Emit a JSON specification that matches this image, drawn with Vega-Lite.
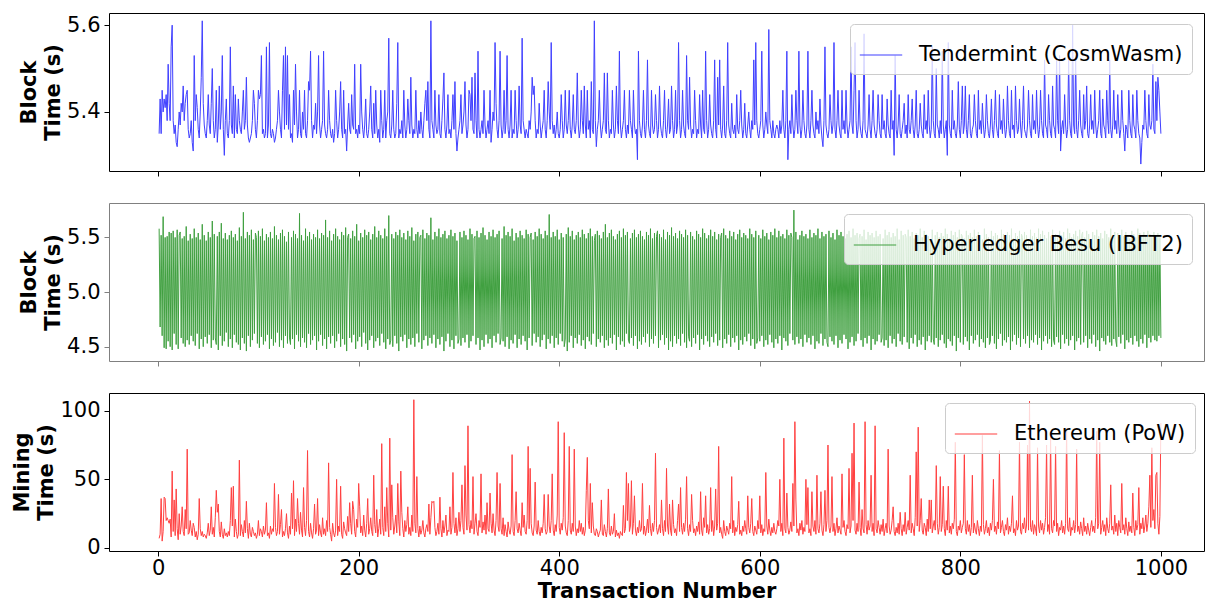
{
"$schema": "https://vega.github.io/schema/vega-lite/v6.json",
"padding": {"left": 11, "top": 12, "right": 0, "bottom": 0},
"autosize": {"type": "pad"},
"background": "white",
"config": {
  "font": "DejaVu Sans",
  "view": {"stroke": "#000000", "strokeWidth": 1},
  "axis": {"labelFont": "DejaVu Sans", "labelFontSize": 21, "labelColor": "#000000", "tickColor": "#000000", "tickSize": 5, "tickWidth": 1, "labelPadding": 4, "domain": false, "grid": false, "titleFont": "DejaVu Sans", "titleFontSize": 21, "titleFontWeight": "bold", "titleColor": "#000000", "titleLineHeight": 24},
  "legend": {"orient": "none", "title": null, "labelFont": "DejaVu Sans", "labelFontSize": 21, "labelColor": "#000000", "labelLimit": 600, "fillColor": "rgba(255,255,255,0.8)", "strokeColor": "#cccccc", "cornerRadius": 4, "padding": 9, "symbolType": "stroke", "symbolStrokeWidth": 1.2, "symbolSize": 1800, "labelOffset": 16}
},
"datasets": {"d": [
{"n":1,"t":5.35,"b":5.58,"e":7},{"n":2,"t":5.43,"b":4.68,"e":10},{"n":3,"t":5.35,"b":5.52,"e":36},{"n":4,"t":5.45,"b":4.60,"e":5},{"n":5,"t":5.40,"b":5.69,"e":12},{"n":6,"t":5.43,"b":4.49,"e":37},{"n":7,"t":5.41,"b":5.50,"e":36},{"n":8,"t":5.44,"b":4.48,"e":20},{"n":9,"t":5.38,"b":5.51,"e":22},{"n":10,"t":5.51,"b":4.55,"e":20},
{"n":11,"t":5.42,"b":5.55,"e":18},{"n":12,"t":5.38,"b":4.50,"e":21},{"n":13,"t":5.55,"b":5.54,"e":8},{"n":14,"t":5.60,"b":4.47,"e":56},{"n":15,"t":5.38,"b":5.56,"e":12},{"n":16,"t":5.35,"b":4.62,"e":35},{"n":17,"t":5.37,"b":5.50,"e":9},{"n":18,"t":5.33,"b":4.52,"e":43},{"n":19,"t":5.32,"b":5.57,"e":14},{"n":20,"t":5.36,"b":4.48,"e":6},
{"n":21,"t":5.40,"b":5.52,"e":25},{"n":22,"t":5.37,"b":5.55,"e":10},{"n":23,"t":5.42,"b":4.58,"e":16},{"n":24,"t":5.40,"b":5.49,"e":30},{"n":25,"t":5.46,"b":4.53,"e":12},{"n":26,"t":5.38,"b":5.51,"e":9},{"n":27,"t":5.42,"b":4.50,"e":28},{"n":28,"t":5.44,"b":5.60,"e":14},{"n":29,"t":5.45,"b":4.56,"e":72},{"n":30,"t":5.36,"b":5.47,"e":10},
{"n":31,"t":5.34,"b":4.52,"e":11},{"n":32,"t":5.35,"b":5.53,"e":20},{"n":33,"t":5.38,"b":4.60,"e":13},{"n":34,"t":5.33,"b":5.49,"e":9},{"n":35,"t":5.31,"b":4.55,"e":18},{"n":36,"t":5.53,"b":5.58,"e":15},{"n":37,"t":5.38,"b":4.51,"e":8},{"n":38,"t":5.44,"b":5.50,"e":12},{"n":39,"t":5.41,"b":4.62,"e":6},{"n":40,"t":5.36,"b":5.54,"e":10},
{"n":41,"t":5.34,"b":4.48,"e":36},{"n":42,"t":5.40,"b":5.48,"e":14},{"n":43,"t":5.48,"b":4.57,"e":9},{"n":44,"t":5.61,"b":5.62,"e":12},{"n":45,"t":5.42,"b":4.50,"e":8},{"n":46,"t":5.37,"b":5.52,"e":10},{"n":47,"t":5.35,"b":4.59,"e":9},{"n":48,"t":5.34,"b":5.47,"e":7},{"n":49,"t":5.38,"b":4.53,"e":11},{"n":50,"t":5.44,"b":5.55,"e":18},
{"n":51,"t":5.37,"b":4.61,"e":9},{"n":52,"t":5.35,"b":5.50,"e":13},{"n":53,"t":5.42,"b":4.49,"e":30},{"n":54,"t":5.50,"b":5.65,"e":10},{"n":55,"t":5.38,"b":4.56,"e":15},{"n":56,"t":5.34,"b":5.53,"e":8},{"n":57,"t":5.36,"b":4.58,"e":22},{"n":58,"t":5.45,"b":4.52,"e":42},{"n":59,"t":5.33,"b":5.51,"e":26},{"n":60,"t":5.37,"b":4.47,"e":32},
{"n":61,"t":5.46,"b":5.55,"e":12},{"n":62,"t":5.36,"b":4.60,"e":8},{"n":63,"t":5.40,"b":5.63,"e":19},{"n":64,"t":5.53,"b":4.51,"e":10},{"n":65,"t":5.36,"b":5.49,"e":7},{"n":66,"t":5.30,"b":4.55,"e":14},{"n":67,"t":5.38,"b":5.54,"e":9},{"n":68,"t":5.43,"b":4.63,"e":11},{"n":69,"t":5.35,"b":5.48,"e":8},{"n":70,"t":5.34,"b":4.50,"e":12},
{"n":71,"t":5.38,"b":5.52,"e":9},{"n":72,"t":5.55,"b":4.57,"e":20},{"n":73,"t":5.37,"b":5.56,"e":44},{"n":74,"t":5.35,"b":4.49,"e":16},{"n":75,"t":5.46,"b":5.50,"e":45},{"n":76,"t":5.34,"b":4.61,"e":8},{"n":77,"t":5.44,"b":5.53,"e":21},{"n":78,"t":5.36,"b":4.54,"e":12},{"n":79,"t":5.35,"b":5.47,"e":7},{"n":80,"t":5.43,"b":4.52,"e":10},
{"n":81,"t":5.38,"b":5.59,"e":64},{"n":82,"t":5.36,"b":4.47,"e":9},{"n":83,"t":5.35,"b":5.51,"e":17},{"n":84,"t":5.40,"b":4.58,"e":12},{"n":85,"t":5.45,"b":5.73,"e":8},{"n":86,"t":5.36,"b":4.53,"e":20},{"n":87,"t":5.38,"b":5.49,"e":11},{"n":88,"t":5.48,"b":4.46,"e":34},{"n":89,"t":5.37,"b":5.55,"e":14},{"n":90,"t":5.34,"b":4.60,"e":7},
{"n":91,"t":5.33,"b":5.52,"e":18},{"n":92,"t":5.34,"b":4.50,"e":10},{"n":93,"t":5.35,"b":5.57,"e":8},{"n":94,"t":5.38,"b":4.56,"e":15},{"n":95,"t":5.45,"b":5.48,"e":12},{"n":96,"t":5.42,"b":4.62,"e":9},{"n":97,"t":5.36,"b":5.54,"e":11},{"n":98,"t":5.34,"b":5.50,"e":7},{"n":99,"t":5.38,"b":4.53,"e":10},{"n":100,"t":5.45,"b":5.56,"e":20},
{"n":101,"t":5.43,"b":4.49,"e":9},{"n":102,"t":5.44,"b":5.51,"e":14},{"n":103,"t":5.53,"b":4.59,"e":12},{"n":104,"t":5.35,"b":5.58,"e":8},{"n":105,"t":5.36,"b":4.52,"e":16},{"n":106,"t":5.34,"b":5.47,"e":10},{"n":107,"t":5.35,"b":4.55,"e":13},{"n":108,"t":5.55,"b":5.53,"e":33},{"n":109,"t":5.34,"b":4.61,"e":9},{"n":110,"t":5.37,"b":5.50,"e":11},
{"n":111,"t":5.56,"b":4.48,"e":7},{"n":112,"t":5.35,"b":5.55,"e":16},{"n":113,"t":5.34,"b":4.57,"e":10},{"n":114,"t":5.36,"b":5.49,"e":14},{"n":115,"t":5.35,"b":4.51,"e":12},{"n":116,"t":5.33,"b":5.60,"e":47},{"n":117,"t":5.34,"b":4.54,"e":15},{"n":118,"t":5.36,"b":5.52,"e":9},{"n":119,"t":5.38,"b":4.63,"e":12},{"n":120,"t":5.45,"b":5.48,"e":39},
{"n":121,"t":5.40,"b":4.50,"e":10},{"n":122,"t":5.36,"b":5.54,"e":17},{"n":123,"t":5.34,"b":4.56,"e":28},{"n":124,"t":5.45,"b":5.57,"e":8},{"n":125,"t":5.53,"b":4.49,"e":12},{"n":126,"t":5.36,"b":5.51,"e":9},{"n":127,"t":5.55,"b":4.60,"e":14},{"n":128,"t":5.37,"b":5.46,"e":25},{"n":129,"t":5.53,"b":4.53,"e":11},{"n":130,"t":5.36,"b":5.55,"e":7},
{"n":131,"t":5.44,"b":4.58,"e":16},{"n":132,"t":5.34,"b":4.52,"e":10},{"n":133,"t":5.35,"b":5.50,"e":40},{"n":134,"t":5.33,"b":4.57,"e":14},{"n":135,"t":5.45,"b":5.56,"e":49},{"n":136,"t":5.37,"b":4.48,"e":9},{"n":137,"t":5.51,"b":5.53,"e":21},{"n":138,"t":5.40,"b":4.61,"e":12},{"n":139,"t":5.34,"b":5.49,"e":36},{"n":140,"t":5.36,"b":4.55,"e":18},
{"n":141,"t":5.45,"b":5.72,"e":10},{"n":142,"t":5.35,"b":4.50,"e":26},{"n":143,"t":5.34,"b":5.52,"e":13},{"n":144,"t":5.40,"b":4.58,"e":8},{"n":145,"t":5.36,"b":5.47,"e":44},{"n":146,"t":5.45,"b":4.54,"e":15},{"n":147,"t":5.35,"b":5.58,"e":9},{"n":148,"t":5.34,"b":4.49,"e":20},{"n":149,"t":5.38,"b":5.51,"e":71},{"n":150,"t":5.47,"b":4.62,"e":12},
{"n":151,"t":5.45,"b":5.55,"e":8},{"n":152,"t":5.54,"b":4.52,"e":18},{"n":153,"t":5.38,"b":5.48,"e":11},{"n":154,"t":5.34,"b":4.56,"e":7},{"n":155,"t":5.37,"b":5.53,"e":14},{"n":156,"t":5.36,"b":4.60,"e":32},{"n":157,"t":5.42,"b":5.50,"e":10},{"n":158,"t":5.35,"b":4.47,"e":13},{"n":159,"t":5.40,"b":5.57,"e":36},{"n":160,"t":5.53,"b":4.55,"e":9},
{"n":161,"t":5.37,"b":5.49,"e":17},{"n":162,"t":5.34,"b":4.61,"e":11},{"n":163,"t":5.36,"b":5.54,"e":8},{"n":164,"t":5.38,"b":4.51,"e":22},{"n":165,"t":5.54,"b":5.52,"e":10},{"n":166,"t":5.37,"b":4.57,"e":14},{"n":167,"t":5.35,"b":5.66,"e":9},{"n":168,"t":5.34,"b":4.48,"e":20},{"n":169,"t":5.36,"b":5.50,"e":12},{"n":170,"t":5.45,"b":4.59,"e":62},
{"n":171,"t":5.38,"b":5.56,"e":15},{"n":172,"t":5.35,"b":4.53,"e":10},{"n":173,"t":5.34,"b":5.47,"e":5},{"n":174,"t":5.36,"b":4.60,"e":18},{"n":175,"t":5.33,"b":5.53,"e":11},{"n":176,"t":5.35,"b":4.49,"e":8},{"n":177,"t":5.45,"b":5.58,"e":13},{"n":178,"t":5.38,"b":4.55,"e":50},{"n":179,"t":5.34,"b":5.51,"e":9},{"n":180,"t":5.36,"b":4.62,"e":16},
{"n":181,"t":5.40,"b":5.48,"e":12},{"n":182,"t":5.47,"b":4.50,"e":45},{"n":183,"t":5.36,"b":5.55,"e":10},{"n":184,"t":5.34,"b":4.57,"e":7},{"n":185,"t":5.45,"b":5.52,"e":19},{"n":186,"t":5.35,"b":4.52,"e":14},{"n":187,"t":5.36,"b":5.59,"e":11},{"n":188,"t":5.31,"b":4.46,"e":9},{"n":189,"t":5.37,"b":5.50,"e":23},{"n":190,"t":5.42,"b":5.53,"e":12},
{"n":191,"t":5.36,"b":4.58,"e":33},{"n":192,"t":5.35,"b":5.49,"e":18},{"n":193,"t":5.44,"b":4.54,"e":10},{"n":194,"t":5.37,"b":5.56,"e":34},{"n":195,"t":5.36,"b":4.61,"e":28},{"n":196,"t":5.51,"b":5.51,"e":12},{"n":197,"t":5.35,"b":4.48,"e":8},{"n":198,"t":5.36,"b":5.62,"e":21},{"n":199,"t":5.34,"b":4.55,"e":15},{"n":200,"t":5.37,"b":5.47,"e":47},
{"n":201,"t":5.35,"b":4.59,"e":30},{"n":202,"t":5.51,"b":5.54,"e":11},{"n":203,"t":5.40,"b":4.50,"e":16},{"n":204,"t":5.36,"b":5.50,"e":9},{"n":205,"t":5.34,"b":4.63,"e":24},{"n":206,"t":5.37,"b":5.57,"e":13},{"n":207,"t":5.43,"b":4.53,"e":8},{"n":208,"t":5.35,"b":5.52,"e":18},{"n":209,"t":5.34,"b":4.47,"e":36},{"n":210,"t":5.36,"b":5.55,"e":10},
{"n":211,"t":5.40,"b":4.56,"e":14},{"n":212,"t":5.46,"b":5.48,"e":22},{"n":213,"t":5.36,"b":4.60,"e":12},{"n":214,"t":5.34,"b":5.53,"e":9},{"n":215,"t":5.42,"b":4.49,"e":53},{"n":216,"t":5.35,"b":5.60,"e":17},{"n":217,"t":5.45,"b":4.55,"e":11},{"n":218,"t":5.37,"b":5.50,"e":28},{"n":219,"t":5.34,"b":4.58,"e":8},{"n":220,"t":5.36,"b":5.56,"e":14},
{"n":221,"t":5.33,"b":4.51,"e":21},{"n":222,"t":5.45,"b":5.52,"e":10},{"n":223,"t":5.38,"b":4.62,"e":76},{"n":224,"t":5.34,"b":5.49,"e":15},{"n":225,"t":5.36,"b":4.54,"e":9},{"n":226,"t":5.45,"b":5.58,"e":30},{"n":227,"t":5.34,"b":4.48,"e":12},{"n":228,"t":5.38,"b":5.51,"e":44},{"n":229,"t":5.40,"b":4.57,"e":18},{"n":230,"t":5.57,"b":5.70,"e":8},
{"n":231,"t":5.35,"b":4.52,"e":80},{"n":232,"t":5.34,"b":4.56,"e":13},{"n":233,"t":5.37,"b":5.53,"e":46},{"n":234,"t":5.45,"b":4.50,"e":22},{"n":235,"t":5.36,"b":5.49,"e":10},{"n":236,"t":5.34,"b":4.60,"e":16},{"n":237,"t":5.35,"b":5.55,"e":24},{"n":238,"t":5.42,"b":4.53,"e":11},{"n":239,"t":5.56,"b":5.52,"e":47},{"n":240,"t":5.34,"b":4.46,"e":19},
{"n":241,"t":5.36,"b":5.57,"e":9},{"n":242,"t":5.35,"b":4.59,"e":56},{"n":243,"t":5.38,"b":5.50,"e":26},{"n":244,"t":5.34,"b":4.55,"e":14},{"n":245,"t":5.45,"b":5.54,"e":8},{"n":246,"t":5.37,"b":4.61,"e":20},{"n":247,"t":5.34,"b":5.48,"e":12},{"n":248,"t":5.36,"b":4.49,"e":17},{"n":249,"t":5.43,"b":5.56,"e":30},{"n":250,"t":5.38,"b":4.57,"e":10},
{"n":251,"t":5.35,"b":5.51,"e":15},{"n":252,"t":5.48,"b":4.52,"e":9},{"n":253,"t":5.37,"b":5.59,"e":24},{"n":254,"t":5.34,"b":4.58,"e":12},{"n":255,"t":5.36,"b":5.47,"e":108},{"n":256,"t":5.35,"b":4.50,"e":18},{"n":257,"t":5.45,"b":5.53,"e":11},{"n":258,"t":5.36,"b":4.62,"e":52},{"n":259,"t":5.34,"b":5.55,"e":14},{"n":260,"t":5.38,"b":4.54,"e":8},
{"n":261,"t":5.35,"b":5.50,"e":16},{"n":262,"t":5.40,"b":5.52,"e":10},{"n":263,"t":5.36,"b":4.48,"e":13},{"n":264,"t":5.34,"b":5.57,"e":20},{"n":265,"t":5.38,"b":4.56,"e":11},{"n":266,"t":5.42,"b":5.49,"e":8},{"n":267,"t":5.45,"b":4.60,"e":14},{"n":268,"t":5.38,"b":5.54,"e":17},{"n":269,"t":5.47,"b":4.51,"e":12},{"n":270,"t":5.36,"b":5.52,"e":32},
{"n":271,"t":5.34,"b":4.58,"e":10},{"n":272,"t":5.61,"b":5.68,"e":22},{"n":273,"t":5.38,"b":4.53,"e":34},{"n":274,"t":5.36,"b":5.48,"e":33},{"n":275,"t":5.34,"b":4.61,"e":34},{"n":276,"t":5.45,"b":5.55,"e":15},{"n":277,"t":5.37,"b":4.49,"e":9},{"n":278,"t":5.35,"b":5.51,"e":12},{"n":279,"t":5.36,"b":4.57,"e":18},{"n":280,"t":5.44,"b":5.58,"e":10},
{"n":281,"t":5.35,"b":4.52,"e":37},{"n":282,"t":5.34,"b":5.50,"e":14},{"n":283,"t":5.38,"b":4.59,"e":8},{"n":284,"t":5.43,"b":5.53,"e":20},{"n":285,"t":5.49,"b":4.46,"e":11},{"n":286,"t":5.36,"b":5.56,"e":16},{"n":287,"t":5.34,"b":4.55,"e":24},{"n":288,"t":5.37,"b":5.49,"e":9},{"n":289,"t":5.44,"b":4.62,"e":13},{"n":290,"t":5.35,"b":5.52,"e":12},
{"n":291,"t":5.36,"b":4.50,"e":30},{"n":292,"t":5.34,"b":5.57,"e":10},{"n":293,"t":5.38,"b":4.56,"e":15},{"n":294,"t":5.44,"b":5.51,"e":55},{"n":295,"t":5.36,"b":4.48,"e":18},{"n":296,"t":5.47,"b":5.54,"e":11},{"n":297,"t":5.35,"b":4.60,"e":22},{"n":298,"t":5.31,"b":5.47,"e":9},{"n":299,"t":5.34,"b":4.53,"e":14},{"n":300,"t":5.36,"b":4.57,"e":26},
{"n":301,"t":5.38,"b":5.55,"e":12},{"n":302,"t":5.44,"b":4.51,"e":20},{"n":303,"t":5.35,"b":5.50,"e":46},{"n":304,"t":5.37,"b":4.58,"e":15},{"n":305,"t":5.40,"b":5.56,"e":10},{"n":306,"t":5.47,"b":4.54,"e":60},{"n":307,"t":5.37,"b":5.52,"e":24},{"n":308,"t":5.34,"b":4.61,"e":13},{"n":309,"t":5.36,"b":5.48,"e":89},{"n":310,"t":5.45,"b":4.49,"e":17},
{"n":311,"t":5.44,"b":5.58,"e":11},{"n":312,"t":5.38,"b":4.55,"e":20},{"n":313,"t":5.48,"b":5.53,"e":14},{"n":314,"t":5.36,"b":4.60,"e":52},{"n":315,"t":5.35,"b":5.49,"e":10},{"n":316,"t":5.49,"b":5.51,"e":18},{"n":317,"t":5.38,"b":4.52,"e":25},{"n":318,"t":5.34,"b":5.56,"e":12},{"n":319,"t":5.54,"b":4.58,"e":9},{"n":320,"t":5.36,"b":5.50,"e":20},
{"n":321,"t":5.34,"b":4.47,"e":15},{"n":322,"t":5.36,"b":5.54,"e":54},{"n":323,"t":5.38,"b":4.56,"e":11},{"n":324,"t":5.35,"b":5.59,"e":19},{"n":325,"t":5.45,"b":4.50,"e":13},{"n":326,"t":5.37,"b":5.52,"e":24},{"n":327,"t":5.34,"b":4.61,"e":10},{"n":328,"t":5.36,"b":5.48,"e":33},{"n":329,"t":5.38,"b":4.53,"e":14},{"n":330,"t":5.35,"b":5.55,"e":12},
{"n":331,"t":5.45,"b":4.57,"e":40},{"n":332,"t":5.33,"b":5.51,"e":18},{"n":333,"t":5.36,"b":4.49,"e":11},{"n":334,"t":5.40,"b":5.57,"e":25},{"n":335,"t":5.38,"b":4.60,"e":13},{"n":336,"t":5.56,"b":5.50,"e":9},{"n":337,"t":5.42,"b":4.54,"e":20},{"n":338,"t":5.36,"b":5.53,"e":55},{"n":339,"t":5.34,"b":4.62,"e":16},{"n":340,"t":5.38,"b":5.56,"e":12},
{"n":341,"t":5.54,"b":4.52,"e":47},{"n":342,"t":5.37,"b":4.58,"e":14},{"n":343,"t":5.34,"b":5.49,"e":10},{"n":344,"t":5.36,"b":4.55,"e":22},{"n":345,"t":5.45,"b":5.60,"e":9},{"n":346,"t":5.35,"b":4.50,"e":17},{"n":347,"t":5.38,"b":5.52,"e":12},{"n":348,"t":5.53,"b":4.59,"e":8},{"n":349,"t":5.36,"b":5.55,"e":19},{"n":350,"t":5.34,"b":4.48,"e":13},
{"n":351,"t":5.37,"b":5.51,"e":10},{"n":352,"t":5.45,"b":4.56,"e":16},{"n":353,"t":5.34,"b":5.58,"e":68},{"n":354,"t":5.36,"b":4.53,"e":12},{"n":355,"t":5.35,"b":5.47,"e":9},{"n":356,"t":5.45,"b":4.61,"e":20},{"n":357,"t":5.38,"b":5.54,"e":41},{"n":358,"t":5.34,"b":4.49,"e":14},{"n":359,"t":5.36,"b":5.50,"e":11},{"n":360,"t":5.46,"b":4.57,"e":18},
{"n":361,"t":5.37,"b":5.56,"e":13},{"n":362,"t":5.35,"b":4.52,"e":9},{"n":363,"t":5.57,"b":5.52,"e":33},{"n":364,"t":5.38,"b":4.60,"e":15},{"n":365,"t":5.36,"b":5.49,"e":24},{"n":366,"t":5.34,"b":4.55,"e":12},{"n":367,"t":5.36,"b":5.57,"e":10},{"n":368,"t":5.35,"b":4.47,"e":20},{"n":369,"t":5.34,"b":5.53,"e":74},{"n":370,"t":5.38,"b":4.58,"e":14},
{"n":371,"t":5.36,"b":5.50,"e":58},{"n":372,"t":5.40,"b":5.54,"e":18},{"n":373,"t":5.48,"b":4.51,"e":11},{"n":374,"t":5.44,"b":5.48,"e":9},{"n":375,"t":5.46,"b":4.62,"e":16},{"n":376,"t":5.38,"b":5.55,"e":48},{"n":377,"t":5.34,"b":4.54,"e":13},{"n":378,"t":5.36,"b":5.51,"e":10},{"n":379,"t":5.35,"b":4.59,"e":20},{"n":380,"t":5.42,"b":5.58,"e":12},
{"n":381,"t":5.37,"b":4.50,"e":9},{"n":382,"t":5.34,"b":5.53,"e":15},{"n":383,"t":5.36,"b":4.56,"e":11},{"n":384,"t":5.38,"b":5.49,"e":18},{"n":385,"t":5.45,"b":4.61,"e":39},{"n":386,"t":5.36,"b":5.56,"e":14},{"n":387,"t":5.34,"b":4.48,"e":10},{"n":388,"t":5.38,"b":5.52,"e":12},{"n":389,"t":5.47,"b":4.57,"e":39},{"n":390,"t":5.40,"b":5.71,"e":16},
{"n":391,"t":5.36,"b":4.53,"e":11},{"n":392,"t":5.56,"b":5.50,"e":20},{"n":393,"t":5.38,"b":4.60,"e":54},{"n":394,"t":5.35,"b":5.55,"e":13},{"n":395,"t":5.37,"b":4.49,"e":9},{"n":396,"t":5.34,"b":5.51,"e":17},{"n":397,"t":5.36,"b":4.58,"e":12},{"n":398,"t":5.40,"b":5.57,"e":24},{"n":399,"t":5.35,"b":4.52,"e":92},{"n":400,"t":5.34,"b":5.48,"e":15},
{"n":401,"t":5.36,"b":4.62,"e":10},{"n":402,"t":5.44,"b":5.54,"e":18},{"n":403,"t":5.38,"b":4.55,"e":13},{"n":404,"t":5.34,"b":5.50,"e":22},{"n":405,"t":5.36,"b":4.50,"e":84},{"n":406,"t":5.45,"b":4.57,"e":16},{"n":407,"t":5.37,"b":5.53,"e":11},{"n":408,"t":5.35,"b":4.46,"e":9},{"n":409,"t":5.38,"b":5.59,"e":20},{"n":410,"t":5.45,"b":4.54,"e":74},
{"n":411,"t":5.36,"b":5.51,"e":13},{"n":412,"t":5.34,"b":4.60,"e":10},{"n":413,"t":5.37,"b":5.56,"e":18},{"n":414,"t":5.44,"b":4.49,"e":12},{"n":415,"t":5.36,"b":5.48,"e":72},{"n":416,"t":5.35,"b":4.58,"e":16},{"n":417,"t":5.38,"b":5.52,"e":9},{"n":418,"t":5.49,"b":4.53,"e":14},{"n":419,"t":5.37,"b":5.55,"e":11},{"n":420,"t":5.34,"b":4.61,"e":20},
{"n":421,"t":5.36,"b":5.50,"e":12},{"n":422,"t":5.45,"b":4.51,"e":18},{"n":423,"t":5.38,"b":5.57,"e":10},{"n":424,"t":5.35,"b":4.56,"e":15},{"n":425,"t":5.46,"b":5.53,"e":9},{"n":426,"t":5.37,"b":4.48,"e":13},{"n":427,"t":5.34,"b":5.49,"e":42},{"n":428,"t":5.45,"b":4.59,"e":66},{"n":429,"t":5.36,"b":5.54,"e":20},{"n":430,"t":5.38,"b":4.55,"e":14},
{"n":431,"t":5.34,"b":5.58,"e":47},{"n":432,"t":5.47,"b":4.52,"e":11},{"n":433,"t":5.36,"b":5.51,"e":33},{"n":434,"t":5.35,"b":4.62,"e":16},{"n":435,"t":5.61,"b":5.47,"e":10},{"n":436,"t":5.38,"b":5.53,"e":9},{"n":437,"t":5.32,"b":4.50,"e":14},{"n":438,"t":5.36,"b":5.56,"e":12},{"n":439,"t":5.38,"b":4.57,"e":8},{"n":440,"t":5.45,"b":5.52,"e":11},
{"n":441,"t":5.37,"b":4.54,"e":13},{"n":442,"t":5.34,"b":5.49,"e":35},{"n":443,"t":5.36,"b":4.60,"e":10},{"n":444,"t":5.38,"b":5.55,"e":9},{"n":445,"t":5.49,"b":4.49,"e":17},{"n":446,"t":5.36,"b":5.62,"e":12},{"n":447,"t":5.35,"b":4.56,"e":8},{"n":448,"t":5.49,"b":5.50,"e":14},{"n":449,"t":5.38,"b":4.51,"e":43},{"n":450,"t":5.34,"b":5.54,"e":11},
{"n":451,"t":5.36,"b":4.58,"e":9},{"n":452,"t":5.35,"b":5.57,"e":16},{"n":453,"t":5.45,"b":4.53,"e":10},{"n":454,"t":5.37,"b":5.51,"e":12},{"n":455,"t":5.34,"b":4.61,"e":25},{"n":456,"t":5.36,"b":5.48,"e":8},{"n":457,"t":5.46,"b":4.47,"e":13},{"n":458,"t":5.38,"b":5.53,"e":9},{"n":459,"t":5.35,"b":4.59,"e":11},{"n":460,"t":5.54,"b":5.56,"e":7},
{"n":461,"t":5.37,"b":4.52,"e":12},{"n":462,"t":5.34,"b":5.50,"e":10},{"n":463,"t":5.36,"b":4.55,"e":9},{"n":464,"t":5.38,"b":5.58,"e":31},{"n":465,"t":5.45,"b":4.50,"e":11},{"n":466,"t":5.36,"b":5.52,"e":14},{"n":467,"t":5.34,"b":4.62,"e":55},{"n":468,"t":5.37,"b":5.55,"e":20},{"n":469,"t":5.35,"b":4.56,"e":47},{"n":470,"t":5.45,"b":4.53,"e":12},
{"n":471,"t":5.38,"b":5.49,"e":16},{"n":472,"t":5.36,"b":4.58,"e":49},{"n":473,"t":5.34,"b":5.54,"e":10},{"n":474,"t":5.45,"b":4.51,"e":18},{"n":475,"t":5.37,"b":5.57,"e":38},{"n":476,"t":5.35,"b":4.60,"e":13},{"n":477,"t":5.36,"b":5.50,"e":9},{"n":478,"t":5.29,"b":4.48,"e":15},{"n":479,"t":5.54,"b":5.53,"e":11},{"n":480,"t":5.38,"b":4.55,"e":20},
{"n":481,"t":5.35,"b":5.56,"e":12},{"n":482,"t":5.34,"b":4.52,"e":14},{"n":483,"t":5.37,"b":5.51,"e":47},{"n":484,"t":5.45,"b":4.59,"e":10},{"n":485,"t":5.36,"b":5.48,"e":16},{"n":486,"t":5.34,"b":4.54,"e":9},{"n":487,"t":5.38,"b":5.55,"e":13},{"n":488,"t":5.52,"b":4.62,"e":21},{"n":489,"t":5.37,"b":5.52,"e":11},{"n":490,"t":5.35,"b":4.50,"e":31},
{"n":491,"t":5.34,"b":5.58,"e":14},{"n":492,"t":5.45,"b":4.57,"e":9},{"n":493,"t":5.37,"b":5.49,"e":18},{"n":494,"t":5.35,"b":4.53,"e":12},{"n":495,"t":5.36,"b":5.54,"e":20},{"n":496,"t":5.44,"b":4.60,"e":69},{"n":497,"t":5.38,"b":5.51,"e":15},{"n":498,"t":5.34,"b":5.56,"e":10},{"n":499,"t":5.36,"b":4.49,"e":13},{"n":500,"t":5.46,"b":5.53,"e":17},
{"n":501,"t":5.37,"b":4.56,"e":11},{"n":502,"t":5.35,"b":5.50,"e":35},{"n":503,"t":5.34,"b":4.61,"e":14},{"n":504,"t":5.38,"b":5.57,"e":9},{"n":505,"t":5.45,"b":4.52,"e":20},{"n":506,"t":5.36,"b":5.48,"e":12},{"n":507,"t":5.34,"b":4.58,"e":58},{"n":508,"t":5.37,"b":5.55,"e":16},{"n":509,"t":5.43,"b":4.47,"e":10},{"n":510,"t":5.35,"b":5.52,"e":32},
{"n":511,"t":5.36,"b":4.55,"e":13},{"n":512,"t":5.46,"b":5.59,"e":9},{"n":513,"t":5.38,"b":4.50,"e":35},{"n":514,"t":5.34,"b":5.51,"e":17},{"n":515,"t":5.36,"b":4.60,"e":11},{"n":516,"t":5.45,"b":5.54,"e":14},{"n":517,"t":5.35,"b":4.53,"e":9},{"n":518,"t":5.37,"b":5.49,"e":20},{"n":519,"t":5.56,"b":4.57,"e":32},{"n":520,"t":5.38,"b":5.56,"e":12},
{"n":521,"t":5.34,"b":4.51,"e":44},{"n":522,"t":5.36,"b":5.53,"e":15},{"n":523,"t":5.45,"b":4.62,"e":10},{"n":524,"t":5.37,"b":5.50,"e":18},{"n":525,"t":5.35,"b":4.54,"e":12},{"n":526,"t":5.34,"b":5.57,"e":21},{"n":527,"t":5.53,"b":4.49,"e":52},{"n":528,"t":5.38,"b":5.52,"e":14},{"n":529,"t":5.36,"b":4.59,"e":9},{"n":530,"t":5.48,"b":4.55,"e":17},
{"n":531,"t":5.37,"b":5.55,"e":12},{"n":532,"t":5.34,"b":4.50,"e":39},{"n":533,"t":5.36,"b":5.51,"e":20},{"n":534,"t":5.35,"b":4.58,"e":11},{"n":535,"t":5.45,"b":5.48,"e":14},{"n":536,"t":5.38,"b":4.53,"e":9},{"n":537,"t":5.34,"b":5.56,"e":16},{"n":538,"t":5.36,"b":4.61,"e":12},{"n":539,"t":5.35,"b":5.53,"e":19},{"n":540,"t":5.44,"b":4.47,"e":10},
{"n":541,"t":5.37,"b":5.50,"e":41},{"n":542,"t":5.34,"b":4.57,"e":13},{"n":543,"t":5.45,"b":5.58,"e":9},{"n":544,"t":5.36,"b":4.52,"e":22},{"n":545,"t":5.35,"b":5.54,"e":15},{"n":546,"t":5.54,"b":4.60,"e":38},{"n":547,"t":5.38,"b":5.49,"e":11},{"n":548,"t":5.34,"b":4.55,"e":17},{"n":549,"t":5.36,"b":5.52,"e":10},{"n":550,"t":5.44,"b":4.50,"e":14},
{"n":551,"t":5.37,"b":5.57,"e":44},{"n":552,"t":5.35,"b":4.59,"e":12},{"n":553,"t":5.34,"b":5.51,"e":20},{"n":554,"t":5.38,"b":4.54,"e":9},{"n":555,"t":5.52,"b":5.55,"e":16},{"n":556,"t":5.36,"b":4.62,"e":43},{"n":557,"t":5.34,"b":5.48,"e":13},{"n":558,"t":5.48,"b":4.51,"e":18},{"n":559,"t":5.37,"b":5.53,"e":74},{"n":560,"t":5.52,"b":4.56,"e":11},
{"n":561,"t":5.36,"b":5.50,"e":15},{"n":562,"t":5.34,"b":5.54,"e":10},{"n":563,"t":5.37,"b":4.49,"e":7},{"n":564,"t":5.46,"b":5.58,"e":20},{"n":565,"t":5.35,"b":4.57,"e":12},{"n":566,"t":5.34,"b":5.52,"e":9},{"n":567,"t":5.38,"b":4.53,"e":16},{"n":568,"t":5.56,"b":5.49,"e":13},{"n":569,"t":5.37,"b":4.61,"e":10},{"n":570,"t":5.35,"b":5.56,"e":18},
{"n":571,"t":5.34,"b":4.50,"e":14},{"n":572,"t":5.42,"b":5.51,"e":52},{"n":573,"t":5.36,"b":4.58,"e":11},{"n":574,"t":5.35,"b":5.55,"e":20},{"n":575,"t":5.37,"b":4.54,"e":9},{"n":576,"t":5.34,"b":5.48,"e":15},{"n":577,"t":5.44,"b":4.60,"e":12},{"n":578,"t":5.36,"b":5.53,"e":17},{"n":579,"t":5.35,"b":4.47,"e":34},{"n":580,"t":5.38,"b":5.57,"e":10},
{"n":581,"t":5.45,"b":4.56,"e":13},{"n":582,"t":5.37,"b":5.50,"e":9},{"n":583,"t":5.34,"b":4.52,"e":16},{"n":584,"t":5.36,"b":5.54,"e":12},{"n":585,"t":5.42,"b":4.59,"e":20},{"n":586,"t":5.35,"b":5.52,"e":14},{"n":587,"t":5.34,"b":4.55,"e":10},{"n":588,"t":5.37,"b":5.49,"e":38},{"n":589,"t":5.40,"b":4.62,"e":15},{"n":590,"t":5.36,"b":5.58,"e":11},
{"n":591,"t":5.34,"b":4.51,"e":18},{"n":592,"t":5.38,"b":5.53,"e":36},{"n":593,"t":5.36,"b":4.57,"e":12},{"n":594,"t":5.52,"b":5.50,"e":9},{"n":595,"t":5.37,"b":4.48,"e":16},{"n":596,"t":5.56,"b":5.56,"e":13},{"n":597,"t":5.38,"b":4.53,"e":10},{"n":598,"t":5.35,"b":4.58,"e":20},{"n":599,"t":5.34,"b":5.52,"e":14},{"n":600,"t":5.36,"b":4.55,"e":38},
{"n":601,"t":5.38,"b":5.49,"e":11},{"n":602,"t":5.54,"b":4.60,"e":17},{"n":603,"t":5.37,"b":5.57,"e":9},{"n":604,"t":5.34,"b":4.50,"e":14},{"n":605,"t":5.36,"b":5.51,"e":12},{"n":606,"t":5.40,"b":4.56,"e":55},{"n":607,"t":5.37,"b":5.54,"e":16},{"n":608,"t":5.35,"b":4.52,"e":10},{"n":609,"t":5.59,"b":5.48,"e":21},{"n":610,"t":5.38,"b":4.61,"e":13},
{"n":611,"t":5.36,"b":5.55,"e":9},{"n":612,"t":5.34,"b":4.54,"e":15},{"n":613,"t":5.38,"b":5.52,"e":11},{"n":614,"t":5.35,"b":4.49,"e":18},{"n":615,"t":5.34,"b":5.58,"e":12},{"n":616,"t":5.36,"b":4.57,"e":10},{"n":617,"t":5.37,"b":5.50,"e":14},{"n":618,"t":5.36,"b":4.53,"e":20},{"n":619,"t":5.34,"b":5.56,"e":16},{"n":620,"t":5.38,"b":4.60,"e":50},
{"n":621,"t":5.35,"b":5.51,"e":12},{"n":622,"t":5.37,"b":4.47,"e":18},{"n":623,"t":5.45,"b":5.53,"e":9},{"n":624,"t":5.36,"b":4.58,"e":80},{"n":625,"t":5.34,"b":5.49,"e":14},{"n":626,"t":5.38,"b":4.55,"e":11},{"n":627,"t":5.54,"b":5.57,"e":40},{"n":628,"t":5.29,"b":4.51,"e":15},{"n":629,"t":5.36,"b":5.52,"e":10},{"n":630,"t":5.38,"b":4.62,"e":13},
{"n":631,"t":5.35,"b":5.54,"e":19},{"n":632,"t":5.44,"b":5.50,"e":12},{"n":633,"t":5.37,"b":4.56,"e":47},{"n":634,"t":5.34,"b":5.75,"e":16},{"n":635,"t":5.36,"b":4.52,"e":92},{"n":636,"t":5.45,"b":5.55,"e":35},{"n":637,"t":5.38,"b":4.59,"e":11},{"n":638,"t":5.35,"b":5.48,"e":14},{"n":639,"t":5.54,"b":4.53,"e":9},{"n":640,"t":5.37,"b":5.52,"e":18},
{"n":641,"t":5.34,"b":4.57,"e":13},{"n":642,"t":5.36,"b":5.56,"e":20},{"n":643,"t":5.45,"b":4.50,"e":10},{"n":644,"t":5.38,"b":5.51,"e":15},{"n":645,"t":5.35,"b":4.61,"e":12},{"n":646,"t":5.34,"b":5.53,"e":50},{"n":647,"t":5.37,"b":4.54,"e":17},{"n":648,"t":5.54,"b":5.49,"e":44},{"n":649,"t":5.36,"b":4.58,"e":11},{"n":650,"t":5.34,"b":5.57,"e":14},
{"n":651,"t":5.38,"b":4.52,"e":9},{"n":652,"t":5.45,"b":5.50,"e":41},{"n":653,"t":5.37,"b":4.60,"e":16},{"n":654,"t":5.35,"b":5.54,"e":12},{"n":655,"t":5.34,"b":4.48,"e":20},{"n":656,"t":5.40,"b":5.52,"e":10},{"n":657,"t":5.36,"b":4.55,"e":53},{"n":658,"t":5.38,"b":5.58,"e":14},{"n":659,"t":5.35,"b":4.53,"e":11},{"n":660,"t":5.43,"b":5.49,"e":18},
{"n":661,"t":5.37,"b":4.62,"e":41},{"n":662,"t":5.34,"b":5.55,"e":13},{"n":663,"t":5.32,"b":4.51,"e":9},{"n":664,"t":5.38,"b":5.51,"e":17},{"n":665,"t":5.55,"b":4.57,"e":42},{"n":666,"t":5.37,"b":5.53,"e":12},{"n":667,"t":5.35,"b":4.54,"e":20},{"n":668,"t":5.34,"b":4.50,"e":75},{"n":669,"t":5.36,"b":5.56,"e":15},{"n":670,"t":5.44,"b":4.59,"e":11},
{"n":671,"t":5.38,"b":5.50,"e":16},{"n":672,"t":5.35,"b":4.55,"e":52},{"n":673,"t":5.37,"b":5.54,"e":12},{"n":674,"t":5.56,"b":4.52,"e":18},{"n":675,"t":5.36,"b":5.48,"e":9},{"n":676,"t":5.34,"b":4.60,"e":14},{"n":677,"t":5.38,"b":5.57,"e":22},{"n":678,"t":5.45,"b":4.49,"e":11},{"n":679,"t":5.37,"b":5.52,"e":16},{"n":680,"t":5.35,"b":4.56,"e":13},
{"n":681,"t":5.34,"b":5.55,"e":10},{"n":682,"t":5.45,"b":4.53,"e":54},{"n":683,"t":5.36,"b":5.51,"e":15},{"n":684,"t":5.38,"b":4.61,"e":20},{"n":685,"t":5.35,"b":5.49,"e":12},{"n":686,"t":5.45,"b":4.57,"e":9},{"n":687,"t":5.37,"b":5.53,"e":17},{"n":688,"t":5.34,"b":4.48,"e":14},{"n":689,"t":5.36,"b":5.56,"e":58},{"n":690,"t":5.38,"b":4.54,"e":11},
{"n":691,"t":5.55,"b":5.50,"e":16},{"n":692,"t":5.37,"b":4.59,"e":69},{"n":693,"t":5.35,"b":5.58,"e":20},{"n":694,"t":5.45,"b":4.51,"e":91},{"n":695,"t":5.56,"b":5.52,"e":13},{"n":696,"t":5.38,"b":4.55,"e":10},{"n":697,"t":5.34,"b":5.54,"e":18},{"n":698,"t":5.36,"b":4.62,"e":12},{"n":699,"t":5.45,"b":5.49,"e":48},{"n":700,"t":5.37,"b":5.53,"e":15},
{"n":701,"t":5.35,"b":4.56,"e":9},{"n":702,"t":5.34,"b":5.51,"e":28},{"n":703,"t":5.38,"b":4.50,"e":14},{"n":704,"t":5.58,"b":5.57,"e":11},{"n":705,"t":5.36,"b":4.58,"e":92},{"n":706,"t":5.35,"b":5.48,"e":17},{"n":707,"t":5.34,"b":4.53,"e":10},{"n":708,"t":5.37,"b":5.55,"e":20},{"n":709,"t":5.44,"b":4.60,"e":13},{"n":710,"t":5.36,"b":5.52,"e":16},
{"n":711,"t":5.34,"b":4.47,"e":53},{"n":712,"t":5.38,"b":5.54,"e":12},{"n":713,"t":5.45,"b":4.57,"e":18},{"n":714,"t":5.37,"b":5.50,"e":9},{"n":715,"t":5.35,"b":4.52,"e":89},{"n":716,"t":5.34,"b":5.56,"e":14},{"n":717,"t":5.36,"b":4.55,"e":11},{"n":718,"t":5.44,"b":5.51,"e":20},{"n":719,"t":5.38,"b":4.61,"e":15},{"n":720,"t":5.35,"b":5.53,"e":10},
{"n":721,"t":5.34,"b":4.54,"e":17},{"n":722,"t":5.44,"b":4.58,"e":12},{"n":723,"t":5.36,"b":5.49,"e":21},{"n":724,"t":5.38,"b":4.51,"e":9},{"n":725,"t":5.35,"b":5.57,"e":14},{"n":726,"t":5.34,"b":4.56,"e":18},{"n":727,"t":5.43,"b":5.52,"e":11},{"n":728,"t":5.37,"b":4.49,"e":72},{"n":729,"t":5.35,"b":5.55,"e":16},{"n":730,"t":5.34,"b":4.60,"e":10},
{"n":731,"t":5.45,"b":5.50,"e":13},{"n":732,"t":5.36,"b":4.53,"e":20},{"n":733,"t":5.38,"b":5.54,"e":30},{"n":734,"t":5.30,"b":4.57,"e":12},{"n":735,"t":5.53,"b":5.51,"e":9},{"n":736,"t":5.36,"b":4.50,"e":15},{"n":737,"t":5.34,"b":5.58,"e":11},{"n":738,"t":5.37,"b":4.62,"e":18},{"n":739,"t":5.44,"b":5.48,"e":10},{"n":740,"t":5.35,"b":4.55,"e":26},
{"n":741,"t":5.34,"b":5.56,"e":14},{"n":742,"t":5.36,"b":4.52,"e":9},{"n":743,"t":5.38,"b":5.52,"e":17},{"n":744,"t":5.42,"b":4.59,"e":12},{"n":745,"t":5.35,"b":5.53,"e":26},{"n":746,"t":5.37,"b":5.50,"e":10},{"n":747,"t":5.34,"b":4.54,"e":15},{"n":748,"t":5.44,"b":5.57,"e":20},{"n":749,"t":5.36,"b":4.48,"e":13},{"n":750,"t":5.35,"b":5.51,"e":53},
{"n":751,"t":5.38,"b":4.58,"e":11},{"n":752,"t":5.43,"b":5.55,"e":18},{"n":753,"t":5.36,"b":4.53,"e":14},{"n":754,"t":5.34,"b":5.49,"e":9},{"n":755,"t":5.37,"b":4.61,"e":22},{"n":756,"t":5.45,"b":5.54,"e":70},{"n":757,"t":5.35,"b":4.50,"e":16},{"n":758,"t":5.34,"b":5.52,"e":88},{"n":759,"t":5.36,"b":4.56,"e":12},{"n":760,"t":5.42,"b":5.58,"e":20},
{"n":761,"t":5.37,"b":4.52,"e":36},{"n":762,"t":5.35,"b":5.50,"e":13},{"n":763,"t":5.34,"b":4.59,"e":10},{"n":764,"t":5.44,"b":5.56,"e":18},{"n":765,"t":5.36,"b":4.47,"e":15},{"n":766,"t":5.38,"b":5.53,"e":9},{"n":767,"t":5.35,"b":4.55,"e":21},{"n":768,"t":5.45,"b":5.51,"e":12},{"n":769,"t":5.37,"b":4.60,"e":35},{"n":770,"t":5.34,"b":5.48,"e":14},
{"n":771,"t":5.36,"b":4.54,"e":35},{"n":772,"t":5.55,"b":5.57,"e":11},{"n":773,"t":5.38,"b":4.57,"e":16},{"n":774,"t":5.35,"b":4.52,"e":20},{"n":775,"t":5.34,"b":5.52,"e":13},{"n":776,"t":5.50,"b":4.58,"e":60},{"n":777,"t":5.37,"b":5.55,"e":18},{"n":778,"t":5.36,"b":4.50,"e":10},{"n":779,"t":5.34,"b":5.50,"e":15},{"n":780,"t":5.38,"b":4.56,"e":52},
{"n":781,"t":5.35,"b":5.54,"e":12},{"n":782,"t":5.54,"b":4.61,"e":17},{"n":783,"t":5.37,"b":5.51,"e":45},{"n":784,"t":5.34,"b":4.53,"e":14},{"n":785,"t":5.36,"b":5.58,"e":9},{"n":786,"t":5.38,"b":4.49,"e":20},{"n":787,"t":5.30,"b":5.53,"e":13},{"n":788,"t":5.56,"b":4.57,"e":45},{"n":789,"t":5.37,"b":5.49,"e":11},{"n":790,"t":5.35,"b":4.55,"e":16},
{"n":791,"t":5.34,"b":5.56,"e":10},{"n":792,"t":5.45,"b":4.51,"e":18},{"n":793,"t":5.36,"b":5.52,"e":14},{"n":794,"t":5.38,"b":4.60,"e":21},{"n":795,"t":5.35,"b":5.55,"e":77},{"n":796,"t":5.34,"b":4.46,"e":12},{"n":797,"t":5.37,"b":5.50,"e":9},{"n":798,"t":5.47,"b":4.58,"e":16},{"n":799,"t":5.36,"b":5.57,"e":13},{"n":800,"t":5.34,"b":4.54,"e":20},
{"n":801,"t":5.38,"b":5.53,"e":11},{"n":802,"t":5.46,"b":5.51,"e":15},{"n":803,"t":5.35,"b":4.52,"e":18},{"n":804,"t":5.37,"b":5.49,"e":68},{"n":805,"t":5.46,"b":4.59,"e":14},{"n":806,"t":5.36,"b":5.56,"e":10},{"n":807,"t":5.34,"b":4.55,"e":20},{"n":808,"t":5.38,"b":5.52,"e":12},{"n":809,"t":5.44,"b":4.47,"e":17},{"n":810,"t":5.35,"b":5.54,"e":9},
{"n":811,"t":5.34,"b":4.60,"e":15},{"n":812,"t":5.36,"b":5.50,"e":53},{"n":813,"t":5.37,"b":4.53,"e":11},{"n":814,"t":5.44,"b":5.57,"e":18},{"n":815,"t":5.38,"b":4.56,"e":13},{"n":816,"t":5.35,"b":5.51,"e":10},{"n":817,"t":5.34,"b":4.61,"e":20},{"n":818,"t":5.45,"b":5.55,"e":14},{"n":819,"t":5.36,"b":4.50,"e":9},{"n":820,"t":5.38,"b":5.52,"e":16},
{"n":821,"t":5.35,"b":4.57,"e":12},{"n":822,"t":5.42,"b":5.48,"e":82},{"n":823,"t":5.37,"b":4.54,"e":17},{"n":824,"t":5.34,"b":5.58,"e":10},{"n":825,"t":5.36,"b":4.49,"e":14},{"n":826,"t":5.44,"b":5.53,"e":20},{"n":827,"t":5.38,"b":4.58,"e":11},{"n":828,"t":5.35,"b":5.50,"e":15},{"n":829,"t":5.34,"b":4.52,"e":9},{"n":830,"t":5.37,"b":4.55,"e":18},
{"n":831,"t":5.43,"b":5.56,"e":13},{"n":832,"t":5.36,"b":4.60,"e":20},{"n":833,"t":5.34,"b":5.51,"e":50},{"n":834,"t":5.38,"b":4.53,"e":12},{"n":835,"t":5.45,"b":5.54,"e":16},{"n":836,"t":5.37,"b":4.48,"e":10},{"n":837,"t":5.35,"b":5.52,"e":19},{"n":838,"t":5.34,"b":4.57,"e":14},{"n":839,"t":5.44,"b":5.49,"e":71},{"n":840,"t":5.36,"b":4.62,"e":11},
{"n":841,"t":5.38,"b":5.57,"e":15},{"n":842,"t":5.35,"b":4.51,"e":20},{"n":843,"t":5.43,"b":5.53,"e":12},{"n":844,"t":5.37,"b":4.56,"e":9},{"n":845,"t":5.34,"b":5.50,"e":17},{"n":846,"t":5.36,"b":4.54,"e":13},{"n":847,"t":5.46,"b":5.55,"e":22},{"n":848,"t":5.38,"b":4.59,"e":10},{"n":849,"t":5.35,"b":5.52,"e":16},{"n":850,"t":5.34,"b":4.47,"e":12},
{"n":851,"t":5.45,"b":5.58,"e":18},{"n":852,"t":5.36,"b":4.55,"e":38},{"n":853,"t":5.37,"b":5.49,"e":11},{"n":854,"t":5.34,"b":4.61,"e":14},{"n":855,"t":5.46,"b":5.54,"e":9},{"n":856,"t":5.38,"b":4.52,"e":20},{"n":857,"t":5.35,"b":5.51,"e":13},{"n":858,"t":5.36,"b":4.58,"e":16},{"n":859,"t":5.43,"b":5.56,"e":77},{"n":860,"t":5.37,"b":4.50,"e":12},
{"n":861,"t":5.34,"b":5.53,"e":10},{"n":862,"t":5.38,"b":5.50,"e":18},{"n":863,"t":5.46,"b":4.57,"e":14},{"n":864,"t":5.36,"b":5.55,"e":22},{"n":865,"t":5.35,"b":4.53,"e":11},{"n":866,"t":5.34,"b":5.52,"e":16},{"n":867,"t":5.37,"b":4.60,"e":75},{"n":868,"t":5.45,"b":5.48,"e":13},{"n":869,"t":5.38,"b":4.49,"e":107},{"n":870,"t":5.35,"b":5.57,"e":15},
{"n":871,"t":5.34,"b":4.56,"e":12},{"n":872,"t":5.44,"b":5.51,"e":20},{"n":873,"t":5.36,"b":4.54,"e":10},{"n":874,"t":5.38,"b":5.54,"e":17},{"n":875,"t":5.35,"b":4.61,"e":14},{"n":876,"t":5.45,"b":5.50,"e":9},{"n":877,"t":5.37,"b":4.52,"e":73},{"n":878,"t":5.34,"b":5.58,"e":16},{"n":879,"t":5.36,"b":4.58,"e":11},{"n":880,"t":5.45,"b":5.53,"e":20},
{"n":881,"t":5.38,"b":4.47,"e":13},{"n":882,"t":5.35,"b":5.56,"e":18},{"n":883,"t":5.34,"b":4.55,"e":10},{"n":884,"t":5.52,"b":5.52,"e":15},{"n":885,"t":5.37,"b":4.60,"e":22},{"n":886,"t":5.36,"b":5.49,"e":75},{"n":887,"t":5.34,"b":4.53,"e":12},{"n":888,"t":5.44,"b":5.55,"e":17},{"n":889,"t":5.38,"b":4.57,"e":10},{"n":890,"t":5.35,"b":5.51,"e":82},
{"n":891,"t":5.34,"b":4.50,"e":14},{"n":892,"t":5.46,"b":5.57,"e":11},{"n":893,"t":5.37,"b":4.56,"e":20},{"n":894,"t":5.36,"b":4.52,"e":16},{"n":895,"t":5.34,"b":5.53,"e":74},{"n":896,"t":5.52,"b":4.59,"e":12},{"n":897,"t":5.38,"b":5.50,"e":18},{"n":898,"t":5.35,"b":4.54,"e":9},{"n":899,"t":5.53,"b":5.56,"e":15},{"n":900,"t":5.31,"b":4.48,"e":13},
{"n":901,"t":5.36,"b":5.52,"e":20},{"n":902,"t":5.38,"b":4.61,"e":11},{"n":903,"t":5.35,"b":5.55,"e":16},{"n":904,"t":5.44,"b":4.53,"e":10},{"n":905,"t":5.37,"b":5.49,"e":18},{"n":906,"t":5.34,"b":4.57,"e":87},{"n":907,"t":5.36,"b":5.58,"e":14},{"n":908,"t":5.52,"b":4.51,"e":12},{"n":909,"t":5.38,"b":5.54,"e":22},{"n":910,"t":5.35,"b":4.56,"e":9},
{"n":911,"t":5.34,"b":5.50,"e":15},{"n":912,"t":5.60,"b":4.60,"e":13},{"n":913,"t":5.37,"b":5.53,"e":20},{"n":914,"t":5.35,"b":4.47,"e":11},{"n":915,"t":5.53,"b":5.56,"e":17},{"n":916,"t":5.36,"b":4.55,"e":72},{"n":917,"t":5.34,"b":5.51,"e":12},{"n":918,"t":5.38,"b":4.58,"e":16},{"n":919,"t":5.45,"b":5.57,"e":10},{"n":920,"t":5.37,"b":4.52,"e":19},
{"n":921,"t":5.35,"b":5.52,"e":14},{"n":922,"t":5.34,"b":5.55,"e":9},{"n":923,"t":5.44,"b":4.54,"e":22},{"n":924,"t":5.36,"b":5.50,"e":12},{"n":925,"t":5.38,"b":4.60,"e":16},{"n":926,"t":5.46,"b":5.56,"e":10},{"n":927,"t":5.35,"b":4.49,"e":18},{"n":928,"t":5.34,"b":5.53,"e":13},{"n":929,"t":5.37,"b":4.57,"e":9},{"n":930,"t":5.44,"b":5.48,"e":15},
{"n":931,"t":5.36,"b":4.53,"e":20},{"n":932,"t":5.38,"b":5.55,"e":12},{"n":933,"t":5.35,"b":4.61,"e":16},{"n":934,"t":5.45,"b":5.52,"e":11},{"n":935,"t":5.37,"b":4.50,"e":22},{"n":936,"t":5.34,"b":5.57,"e":85},{"n":937,"t":5.36,"b":4.56,"e":14},{"n":938,"t":5.38,"b":5.51,"e":18},{"n":939,"t":5.45,"b":4.46,"e":77},{"n":940,"t":5.35,"b":5.54,"e":10},
{"n":941,"t":5.34,"b":4.58,"e":15},{"n":942,"t":5.43,"b":5.49,"e":20},{"n":943,"t":5.37,"b":4.55,"e":12},{"n":944,"t":5.36,"b":5.56,"e":17},{"n":945,"t":5.34,"b":4.52,"e":9},{"n":946,"t":5.45,"b":5.53,"e":22},{"n":947,"t":5.38,"b":4.60,"e":14},{"n":948,"t":5.35,"b":5.50,"e":11},{"n":949,"t":5.52,"b":4.54,"e":18},{"n":950,"t":5.36,"b":5.58,"e":46},
{"n":951,"t":5.34,"b":4.51,"e":13},{"n":952,"t":5.37,"b":5.52,"e":16},{"n":953,"t":5.45,"b":4.57,"e":10},{"n":954,"t":5.36,"b":5.55,"e":24},{"n":955,"t":5.38,"b":4.56,"e":12},{"n":956,"t":5.35,"b":4.50,"e":18},{"n":957,"t":5.44,"b":5.54,"e":9},{"n":958,"t":5.37,"b":4.59,"e":20},{"n":959,"t":5.34,"b":5.50,"e":15},{"n":960,"t":5.36,"b":4.53,"e":11},
{"n":961,"t":5.45,"b":5.57,"e":47},{"n":962,"t":5.38,"b":4.61,"e":13},{"n":963,"t":5.35,"b":5.51,"e":17},{"n":964,"t":5.31,"b":4.48,"e":10},{"n":965,"t":5.37,"b":5.55,"e":22},{"n":966,"t":5.36,"b":4.56,"e":14},{"n":967,"t":5.34,"b":5.52,"e":9},{"n":968,"t":5.45,"b":4.54,"e":19},{"n":969,"t":5.38,"b":5.49,"e":12},{"n":970,"t":5.35,"b":4.58,"e":16},
{"n":971,"t":5.34,"b":5.56,"e":11},{"n":972,"t":5.44,"b":4.52,"e":40},{"n":973,"t":5.37,"b":5.53,"e":15},{"n":974,"t":5.36,"b":4.60,"e":9},{"n":975,"t":5.34,"b":5.50,"e":20},{"n":976,"t":5.45,"b":4.55,"e":13},{"n":977,"t":5.38,"b":5.58,"e":17},{"n":978,"t":5.35,"b":4.50,"e":44},{"n":979,"t":5.34,"b":5.54,"e":10},{"n":980,"t":5.28,"b":4.57,"e":18},
{"n":981,"t":5.33,"b":5.51,"e":14},{"n":982,"t":5.37,"b":4.53,"e":22},{"n":983,"t":5.36,"b":5.55,"e":11},{"n":984,"t":5.45,"b":4.61,"e":16},{"n":985,"t":5.38,"b":5.52,"e":24},{"n":986,"t":5.35,"b":4.49,"e":12},{"n":987,"t":5.34,"b":5.56,"e":18},{"n":988,"t":5.44,"b":4.58,"e":30},{"n":989,"t":5.37,"b":5.53,"e":53},{"n":990,"t":5.36,"b":4.54,"e":15},
{"n":991,"t":5.38,"b":5.50,"e":73},{"n":992,"t":5.51,"b":4.60,"e":20},{"n":993,"t":5.36,"b":5.55,"e":28},{"n":994,"t":5.35,"b":4.56,"e":14},{"n":995,"t":5.47,"b":5.52,"e":53},{"n":996,"t":5.38,"b":4.55,"e":55},{"n":997,"t":5.48,"b":5.54,"e":18},{"n":998,"t":5.45,"b":4.60,"e":10},{"n":999,"t":5.40,"b":5.50,"e":23},{"n":1000,"t":5.35,"b":4.58,"e":91}
]},
"data": {"name": "d"},
"spacing": 32,
"bounds": "flush",
"resolve": {"scale": {"x": "independent", "y": "independent", "color": "independent"}, "legend": {"color": "independent"}},
"vconcat": [
  {
    "width": 1095, "height": 158,
    "mark": {"type": "line", "strokeWidth": 1, "clip": true},
    "encoding": {
      "x": {"field": "n", "type": "quantitative", "scale": {"domain": [-49, 1043], "nice": false, "zero": false}, "axis": {"values": [0, 200, 400, 600, 800, 1000], "labels": false, "title": null}},
      "y": {"field": "t", "type": "quantitative", "scale": {"domain": [5.264, 5.628], "nice": false, "zero": false}, "axis": {"values": [5.4, 5.6], "format": ".1f", "title": ["Block", "Time (s)"], "titlePadding": 3}},
      "color": {"datum": "Tendermint (CosmWasm)", "type": "nominal", "scale": {"range": ["#4040ff"]}, "legend": {"legendX": 741, "legendY": 11}}
    }
  },
  {
    "width": 1095, "height": 158,
    "view": {"stroke": "#808080"},
    "mark": {"type": "line", "strokeWidth": 1, "clip": true},
    "encoding": {
      "x": {"field": "n", "type": "quantitative", "scale": {"domain": [-49, 1043], "nice": false, "zero": false}, "axis": {"values": [0, 200, 400, 600, 800, 1000], "labels": false, "title": null, "tickColor": "#808080"}},
      "y": {"field": "b", "type": "quantitative", "scale": {"domain": [4.369, 5.815], "nice": false, "zero": false}, "axis": {"values": [4.5, 5.0, 5.5], "format": ".1f", "title": ["Block", "Time (s)"], "titlePadding": 3, "tickColor": "#808080"}},
      "color": {"datum": "Hyperledger Besu (IBFT2)", "type": "nominal", "scale": {"range": ["#40a040"]}, "legend": {"legendX": 735, "legendY": 11}}
    }
  },
  {
    "width": 1095, "height": 158,
    "mark": {"type": "line", "strokeWidth": 1, "clip": true},
    "encoding": {
      "x": {"field": "n", "type": "quantitative", "scale": {"domain": [-49, 1043], "nice": false, "zero": false}, "axis": {"values": [0, 200, 400, 600, 800, 1000], "format": "d", "title": "Transaction Number", "labelPadding": 1, "titlePadding": 2}},
      "y": {"field": "e", "type": "quantitative", "scale": {"domain": [-2.2, 112.9], "nice": false, "zero": false}, "axis": {"values": [0, 50, 100], "format": "d", "title": ["Mining", "Time (s)"], "titlePadding": 3}},
      "color": {"datum": "Ethereum (PoW)", "type": "nominal", "scale": {"range": ["#ff4040"]}, "legend": {"legendX": 836, "legendY": 10}}
    }
  }
]
}
